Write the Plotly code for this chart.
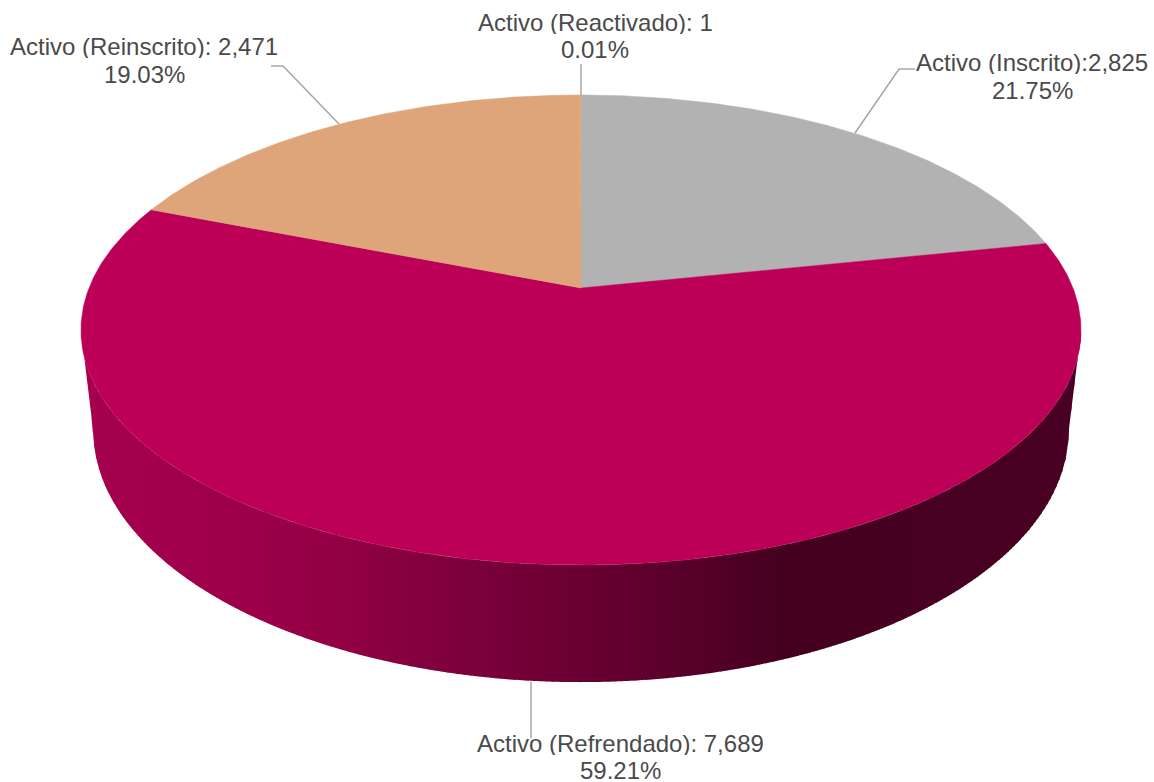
"""
plot.py - 3D-look pie of active records, drawn as filled scatter polygons.
"""
import numpy as np
import plotly.graph_objects as go

# -- Data ---------------------------------------------------------------------
CATEGORIES = ["Activo (Inscrito)", "Activo (Refrendado)", "Activo (Reinscrito)", "Activo (Reactivado)"]
VALUES = [2825, 7689, 2471, 1]
PERCENT_LABELS = ["21.75%", "59.21%", "19.03%", "0.01%"]
VALUE_LABELS = ["Activo (Inscrito):2,825", "Activo (Refrendado): 7,689",
                "Activo (Reinscrito): 2,471", "Activo (Reactivado): 1"]

# -- Style --------------------------------------------------------------------
SLICE_COLORS = ["#B2B2B2", "#BC0058", "#DDA579", "#7F7F7F"]
TEXT_COLOR = "#4A4A4A"
LEADER_COLOR = "#A6A6A6"
FONT = "Liberation Sans, Arial, sans-serif"
W, H = 1154, 782

# perspective projection of the pie disc: (apex_x, apex_y, half width, half height, tilt)
TOP_DISC = (581, 288, 492, 227.5, 0.1787)
BOTTOM_DISC = (581, 385, 480, 244, 0.1787)

# side wall shading runs left to right along the page
WALL_X = [90, 260, 340, 440, 581, 700, 790, 1090]
WALL_R = [166, 155, 146, 128, 106, 85, 68, 74]
WALL_G = [0, 0, 0, 0, 0, 0, 0, 0]
WALL_B = [79, 72, 68, 61, 50, 41, 31, 36]
STRIP_WIDTH = 3

# label centres: x, first line y, second line y
LABEL_POS = [(1032, 62, 90), (620, 743, 770), (144, 46, 74), (595, 22, 49)]
LEADERS = [
    ([855, 899, 915], [133, 69, 69]),
    ([531, 531], [682, 738]),
    ([271, 283, 339], [66, 66, 124]),
    ([581, 581], [64, 95]),
]


def project(theta, disc):
    """Screen position of a rim point; theta runs clockwise from the top."""
    cx, cy, a, b, k = disc
    u, v = np.sin(theta), np.cos(theta)
    d = 1 + k * v
    return cx + a * u / d, cy - b * v / d


def wall_color(x):
    r = np.interp(x, WALL_X, WALL_R)
    g = np.interp(x, WALL_X, WALL_G)
    b = np.interp(x, WALL_X, WALL_B)
    return f"rgb({r:.0f},{g:.0f},{b:.0f})"


fig = go.Figure()

# side wall, cut into vertical strips so the shading stays horizontal
k = TOP_DISC[4]
side = np.arccos(-k)  # angle at which the rim is widest
lower = np.linspace(side, 2 * np.pi - side, 600)
top_x, top_y = project(lower, TOP_DISC)
bot_x, bot_y = project(lower, BOTTOM_DISC)
# rim runs right to left here, np.interp wants rising x
upper_x, upper_y = top_x[::-1], top_y[::-1]
outer_x = np.concatenate([[top_x[-1]], bot_x[::-1], [top_x[0]]])
outer_y = np.concatenate([[top_y[-1]], bot_y[::-1], [top_y[0]]])

strip_edges = np.arange(upper_x[0], upper_x[-1], STRIP_WIDTH)
for x0 in strip_edges:
    x1 = min(x0 + STRIP_WIDTH + 0.6, upper_x[-1])
    sx = np.linspace(x0, x1, 4)
    color = wall_color((x0 + x1) / 2)
    fig.add_trace(go.Scatter(
        x=[*sx, *sx[::-1]],
        y=[*np.interp(sx, upper_x, upper_y), *np.interp(sx[::-1], outer_x, outer_y)],
        mode="lines", fill="toself", fillcolor=color,
        line=dict(width=0), hoverinfo="skip", showlegend=False,
    ))

# top face slices
total = sum(VALUES)
start = 0.0
for name, val, color in zip(CATEGORIES, VALUES, SLICE_COLORS):
    end = start + val / total * 2 * np.pi
    t = np.linspace(start, end, max(2, int((end - start) * 120)))
    xs, ys = project(t, TOP_DISC)
    fig.add_trace(go.Scatter(
        x=[TOP_DISC[0], *xs, TOP_DISC[0]], y=[TOP_DISC[1], *ys, TOP_DISC[1]],
        mode="lines", fill="toself", fillcolor=color,
        line=dict(color=color, width=0.5 if val / total > 0.01 else 0),
        name=name, hoverinfo="name", showlegend=False,
    ))
    start = end

# leader lines
for lx, ly in LEADERS:
    fig.add_trace(go.Scatter(
        x=lx, y=ly, mode="lines", line=dict(color=LEADER_COLOR, width=1.5),
        hoverinfo="skip", showlegend=False,
    ))

# labels, one annotation per line to hold the tight line spacing
for (lx, y1, y2), val_text, pct in zip(LABEL_POS, VALUE_LABELS, PERCENT_LABELS):
    for ly, text in ((y1, val_text), (y2, pct)):
        fig.add_annotation(
            x=lx, y=ly, yanchor="middle", xanchor="center", showarrow=False,
            text=text, height=24, font=dict(family=FONT, size=24, color=TEXT_COLOR),
        )

fig.update_layout(
    width=W, height=H,
    margin=dict(l=0, r=0, t=0, b=0),
    paper_bgcolor="#ffffff", plot_bgcolor="#ffffff",
    xaxis=dict(range=[0, W], visible=False, fixedrange=True),
    yaxis=dict(range=[H, 0], visible=False, fixedrange=True),
    showlegend=False,
)

fig.write_html("out.html", post_script="document.body.style.margin = '0';", config=dict(displayModeBar=False))
